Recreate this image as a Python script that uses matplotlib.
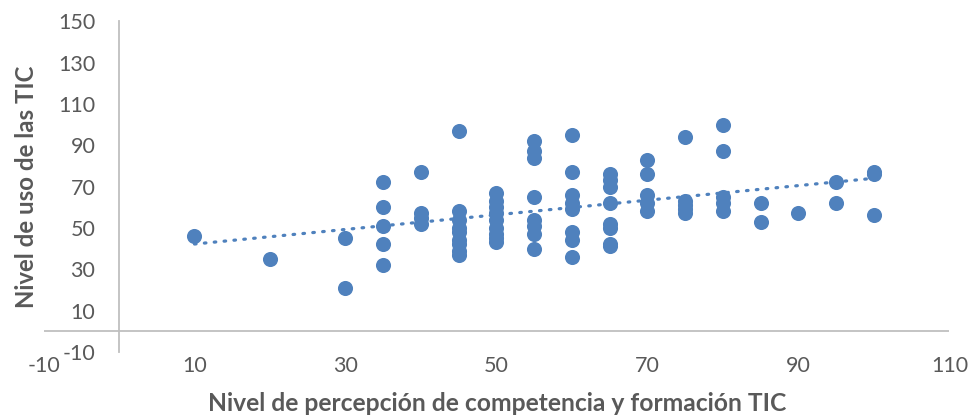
import matplotlib.pyplot as plt
import numpy as np

plt.rcParams["font.family"] = ["Lato", "DejaVu Sans"]
plt.rcParams["axes.unicode_minus"] = False

# Nivel de percepción de competencia y formación TIC (x) vs nivel de uso (y)
percepcion = (
    [10]
    + [20]
    + [30] * 2
    + [35] * 5
    + [40] * 4
    + [45] * 9
    + [50] * 9
    + [55] * 8
    + [60] * 8
    + [65] * 8
    + [70] * 5
    + [75] * 5
    + [80] * 5
    + [85] * 2
    + [90]
    + [95] * 2
    + [100] * 3
)
uso = [
    46,
    35,
    45, 21,
    72, 60, 51, 42, 32,
    77, 57, 55, 52,
    97, 58, 54, 50, 48, 44, 42, 39, 37,
    67, 63, 60, 57, 54, 50, 47, 45, 43,
    92, 87, 84, 65, 54, 51, 47, 40,
    95, 77, 66, 62, 59, 48, 44, 36,
    76, 73, 70, 62, 52, 50, 42, 41,
    83, 76, 66, 62, 58,
    94, 63, 61, 59, 57,
    100, 87, 65, 62, 58,
    62, 53,
    57,
    72, 62,
    77, 76, 56,
]

x_ticks = list(range(-10, 111, 20))
y_ticks = list(range(-10, 151, 20))

BLUE = "#4F81BD"
GRAY_TXT = "#595959"
GRAY_AX = "#BFBFBF"

fig = plt.figure(figsize=(9.71, 4.15), dpi=100)
ax = fig.add_axes([0.0448, 0.152, 0.933, 0.797])

x = np.array(percepcion)
y = np.array(uso)
ax.scatter(x, y, s=118, color=BLUE, linewidths=0, zorder=3)

# linear trendline
slope, intercept = np.polyfit(x, y, 1)
xt = np.array([x.min(), x.max()])
ax.plot(xt, slope * xt + intercept, color=BLUE, lw=2.3,
        linestyle=(0, (0.5, 2.6)), dash_capstyle="round", zorder=4)

ax.set_xlim(-10, 110)
ax.set_ylim(-10, 150)
ax.set_xticks(x_ticks)
ax.set_yticks(y_ticks)

for side in ["top", "right", "bottom"]:
    ax.spines[side].set_visible(False)
ax.spines["left"].set_position(("data", 0))
ax.spines["left"].set_color(GRAY_AX)
ax.spines["left"].set_linewidth(1.3)
ax.axhline(0, color=GRAY_AX, lw=1.3, zorder=1)

ax.tick_params(axis="y", length=0, pad=17, labelsize=15.5, labelcolor=GRAY_TXT)
ax.tick_params(axis="x", length=0, pad=3, labelsize=15.5, labelcolor=GRAY_TXT)

fig.text(0.512, 0.028, "Nivel de percepción de competencia y formación TIC",
         ha="center", va="center", fontsize=17.7, fontweight="bold",
         color=GRAY_TXT)
fig.text(0.027, 0.551, "Nivel de uso de las TIC", ha="center", va="center",
         rotation=90, fontsize=17.3, fontweight="bold", color=GRAY_TXT)

fig.savefig("out.png", dpi=100)
